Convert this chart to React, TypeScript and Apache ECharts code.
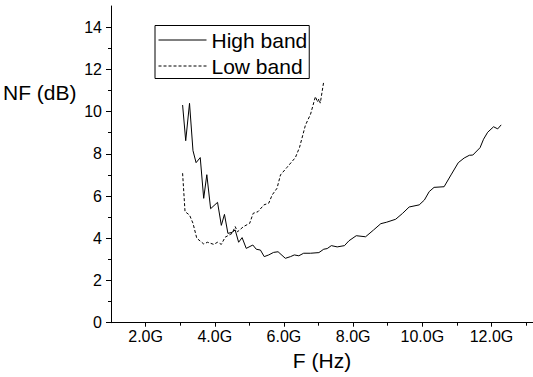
import React, { useEffect, useRef } from "react";
import * as echarts from "echarts";

const highX = [3.07,3.16,3.27,3.37,3.46,3.58,3.68,3.77,3.88,4.08,4.19,4.28,4.38,4.50,4.59,4.69,4.79,4.91,5.10,5.20,5.32,5.43,5.56,5.70,5.83,6.04,6.19,6.30,6.43,6.57,6.77,7.01,7.15,7.25,7.37,7.54,7.75,7.88,8.09,8.36,8.59,8.80,8.97,9.23,9.43,9.62,9.91,10.06,10.20,10.34,10.63,10.83,11.04,11.21,11.36,11.46,11.67,11.77,11.89,12.06,12.18,12.28];
const highY = [10.31,8.62,10.39,8.15,7.58,7.82,5.89,7.01,5.40,5.70,4.61,5.13,4.23,4.28,4.39,3.81,4.03,3.52,3.68,3.48,3.44,3.13,3.21,3.33,3.36,3.05,3.13,3.21,3.17,3.29,3.29,3.32,3.48,3.51,3.65,3.59,3.65,3.88,4.12,4.07,4.39,4.69,4.76,4.90,5.18,5.48,5.58,5.81,6.21,6.41,6.44,7.00,7.58,7.80,7.93,7.94,8.29,8.69,9.02,9.28,9.18,9.37];

const lowX = [3.07,3.14,3.27,3.37,3.48,3.68,3.79,3.97,4.08,4.19,4.30,4.50,4.59,4.66,4.83,5.01,5.11,5.25,5.42,5.56,5.66,5.80,5.90,6.09,6.33,6.45,6.62,6.77,6.91,6.97,7.01,7.05,7.15];
const lowY = [7.08,5.26,5.10,4.71,4.00,3.73,3.81,3.71,3.81,3.71,4.05,4.23,4.55,4.31,4.55,4.71,5.18,5.26,5.58,5.66,6.05,6.37,7.00,7.36,7.82,8.30,9.35,9.88,10.71,10.45,10.60,10.40,11.42];

const xMajorTicks = [2, 4, 6, 8, 10, 12];
const xMinorTicks = [3, 5, 7, 9, 11, 13];
const yMajorTicks = [0, 2, 4, 6, 8, 10, 12, 14];
const yMinorTicks = [1, 3, 5, 7, 9, 11, 13];
const seriesNames = ["High band", "Low band"];

const FONT = "Liberation Sans, Arial, sans-serif";

export default function App() {
  const ref = useRef<HTMLDivElement>(null);
  useEffect(() => {
    if (!ref.current) return;
    const chart = echarts.init(ref.current, undefined, { renderer: "svg" });
    const xBase = { type: "value", min: 1, max: 13.2, splitLine: { show: false }, position: "bottom" };
    const yBase = { type: "value", min: 0, max: 15, splitLine: { show: false }, position: "left" };
    chart.setOption({
      animation: false,
      backgroundColor: "#fff",
      grid: { left: 111, right: 0, top: 6, bottom: 54.3, containLabel: false },
      legend: {
        data: seriesNames,
        orient: "vertical",
        left: 155,
        top: 25.5,
        itemWidth: 48,
        itemHeight: 14,
        itemGap: 5,
        padding: [4, 2, 2, 3],
        borderColor: "#000",
        borderWidth: 1,
        itemStyle: { opacity: 0 },
        lineStyle: { width: 1 },
        textStyle: { fontSize: 21, color: "#000", fontFamily: FONT, lineHeight: 20 },
      },
      xAxis: [
        {
          ...xBase,
          name: "F (Hz)",
          nameLocation: "middle",
          nameGap: 20,
          nameTextStyle: { fontSize: 21, color: "#000", fontFamily: FONT },
          axisLine: { show: true, lineStyle: { color: "#000", width: 1 } },
          axisTick: { show: true, length: 4, customValues: xMajorTicks, lineStyle: { color: "#000" } },
          axisLabel: {
            show: true,
            customValues: xMajorTicks,
            margin: 6,
            fontSize: 16,
            color: "#000",
            fontFamily: FONT,
            formatter: (v: number) => v.toFixed(1) + "G",
          },
        },
        {
          ...xBase,
          axisLine: { show: false },
          axisTick: { show: true, length: 3, customValues: xMinorTicks, lineStyle: { color: "#000" } },
          axisLabel: { show: false },
        },
      ],
      yAxis: [
        {
          ...yBase,
          axisLine: { show: true, lineStyle: { color: "#000", width: 1 } },
          axisTick: { show: true, length: 5, customValues: yMajorTicks, lineStyle: { color: "#000" } },
          axisLabel: {
            show: true,
            customValues: yMajorTicks,
            margin: 9,
            fontSize: 16,
            color: "#000",
            fontFamily: FONT,
          },
        },
        {
          ...yBase,
          axisLine: { show: false },
          axisTick: { show: true, length: 3, customValues: yMinorTicks, lineStyle: { color: "#000" } },
          axisLabel: { show: false },
        },
      ],
      graphic: [
        {
          type: "text",
          x: 3,
          y: 92,
          style: { text: "NF (dB)", fontSize: 21, fill: "#000", fontFamily: FONT, verticalAlign: "middle" },
        },
      ],
      series: [
        {
          name: seriesNames[0],
          type: "line",
          xAxisIndex: 0,
          yAxisIndex: 0,
          symbol: "none",
          data: highX.map((x, i) => [x, highY[i]]),
          lineStyle: { color: "#000", width: 1, type: "solid" },
          itemStyle: { color: "#000" },
        },
        {
          name: seriesNames[1],
          type: "line",
          xAxisIndex: 0,
          yAxisIndex: 0,
          symbol: "none",
          data: lowX.map((x, i) => [x, lowY[i]]),
          lineStyle: { color: "#000", width: 1, type: [3, 2] },
          itemStyle: { color: "#000" },
        },
      ],
    });
    return () => chart.dispose();
  }, []);
  return <div ref={ref} style={{ position: "fixed", left: 0, top: 0, width: 533, height: 377 }} />;
}
